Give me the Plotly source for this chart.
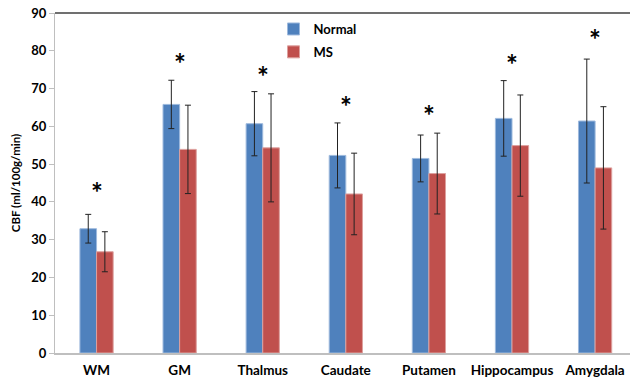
import plotly.graph_objects as go

categories = ["WM", "GM", "Thalmus", "Caudate", "Putamen", "Hippocampus", "Amygdala"]
normal = [32.9, 65.8, 60.7, 52.3, 51.5, 62.1, 61.4]
normal_err = [3.8, 6.4, 8.5, 8.6, 6.2, 10.0, 16.4]
ms = [26.8, 53.9, 54.3, 42.1, 47.5, 54.9, 49.0]
ms_err = [5.3, 11.7, 14.3, 10.8, 10.7, 13.4, 16.2]
star_y = [44.1, 78.3, 75.0, 67.1, 64.7, 78.2, 84.6]
y_ticks = [0, 10, 20, 30, 40, 50, 60, 70, 80, 90]

FONT = "Lato"

fig = go.Figure()
fig.add_trace(go.Bar(
    x=categories, y=normal, name="Normal", legendgroup="a",
    marker=dict(color="#4F81BD", line=dict(color="#9DB9DD", width=1)),
    error_y=dict(type="data", array=normal_err, color="#222222", thickness=1, width=3),
))
fig.add_trace(go.Bar(
    x=categories, y=ms, name="MS", legendgroup="b",
    marker=dict(color="#C0504D", line=dict(color="#DDA09E", width=1)),
    error_y=dict(type="data", array=ms_err, color="#222222", thickness=1, width=3),
))

for c, sy in zip(categories, star_y):
    fig.add_annotation(x=c, y=sy, text="*", showarrow=False,
                       font=dict(family=FONT, size=28, color="black", weight="bold"),
                       xanchor="center", yanchor="middle", yshift=-6)

fig.add_shape(type="line", xref="paper", yref="paper", x0=0, x1=1, y0=1, y1=1,
              line=dict(color="#404040", width=1.5))

fig.update_layout(
    width=630, height=378,
    margin=dict(l=55, r=0, t=13, b=25),
    paper_bgcolor="white", plot_bgcolor="white",
    barmode="group", bargap=0.6, bargroupgap=0,
    font=dict(family=FONT, color="black"),
    legend=dict(x=0.38, y=0.997, xanchor="left", yanchor="top",
                font=dict(family=FONT, size=13, color="black", weight="bold"),
                bgcolor="rgba(0,0,0,0)", traceorder="grouped", tracegroupgap=3,
                itemwidth=30),
    xaxis=dict(range=[-0.5, 6.42], showline=True, linecolor="#BFBFBF", linewidth=1.5,
               ticks="outside", ticklen=4, tickcolor="rgba(0,0,0,0)",
               tickfont=dict(family=FONT, size=13.5, color="black", weight="bold"),
               showgrid=False, fixedrange=True),
    yaxis=dict(range=[0, 90], tickvals=y_ticks, showline=True, linecolor="#BFBFBF",
               linewidth=1, ticks="outside", ticklen=5, tickcolor="#BFBFBF",
               tickfont=dict(family=FONT, size=13, color="black", weight="bold"), showgrid=False,
               zeroline=False,
               title=dict(text="CBF (ml/100g/min)",
                          font=dict(family=FONT, size=11.5, color="black", weight="bold"),
                          standoff=8)),
)

fig.write_html("out.html", config={"displayModeBar": False},
               post_script="document.body.style.margin='0';document.body.style.padding='0';document.body.style.overflow='hidden';")
